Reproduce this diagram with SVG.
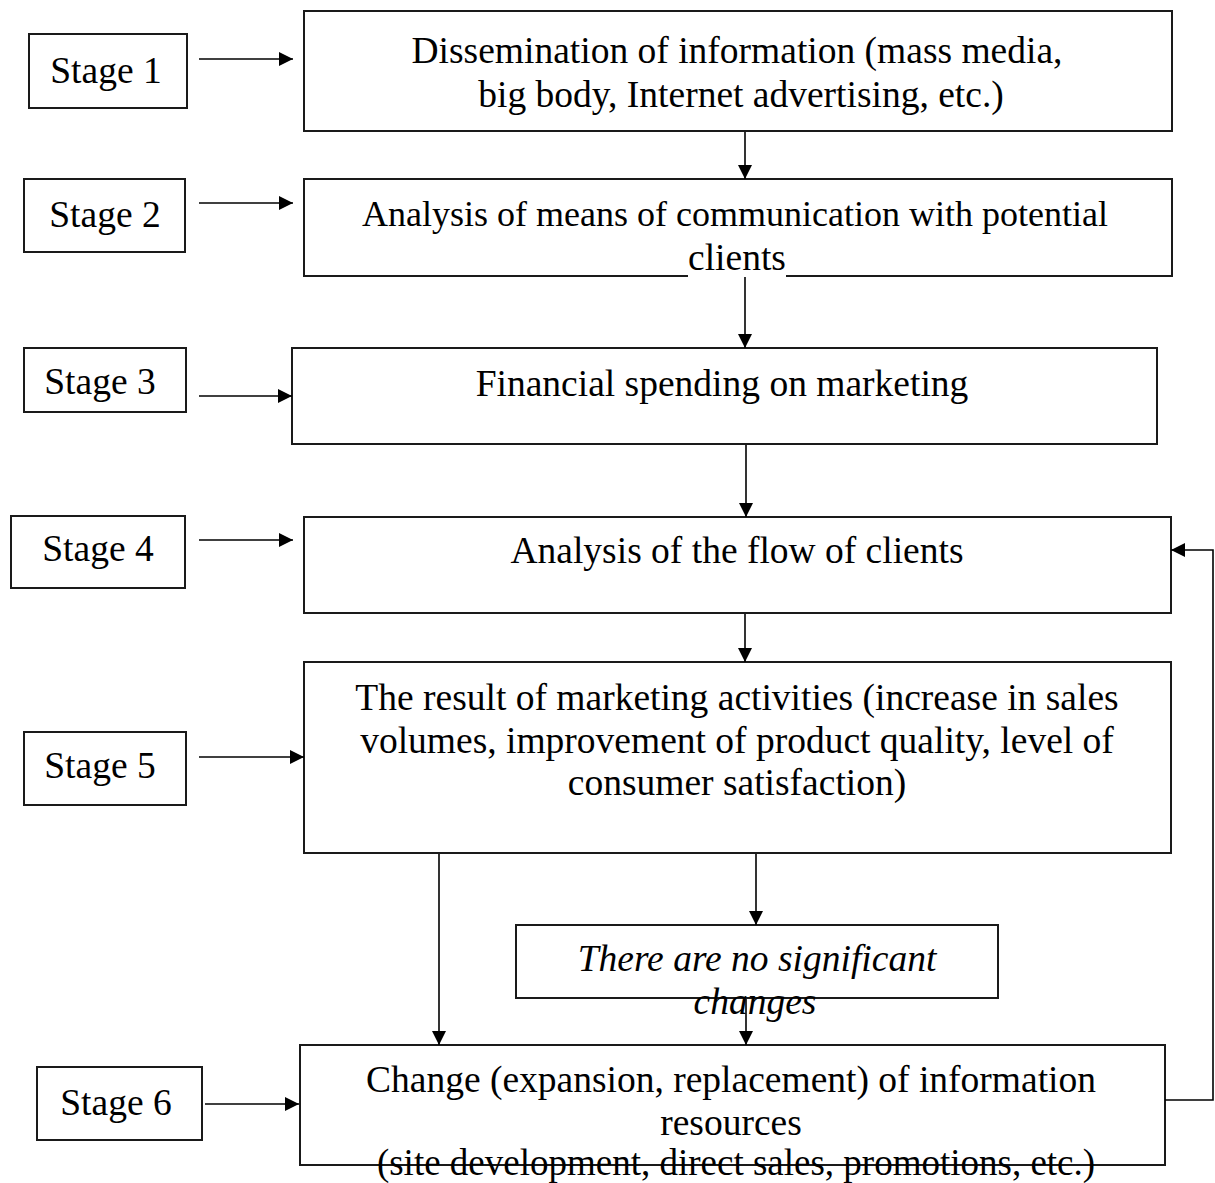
<svg xmlns="http://www.w3.org/2000/svg" width="1215" height="1183" viewBox="0 0 1215 1183">
  <style>
    .box { fill: #fff; stroke: #1a1a1a; stroke-width: 2; }
    .t { font-family: "Liberation Serif", "Times New Roman", serif; font-size: 37.5px; fill: #000; text-anchor: middle; }
    .it { font-style: italic; }
    .wire { fill: none; stroke: #000; stroke-width: 1.6; }
  </style>
  <defs>
    <marker id="arrow" viewBox="0 0 14 14" refX="14" refY="7" markerWidth="14" markerHeight="14" markerUnits="userSpaceOnUse" orient="auto">
      <path d="M0,0 L14,7 L0,14 Z" fill="#000"/>
    </marker>
  </defs>

  <!-- stage labels -->
  <g id="stage1"><rect class="box" x="29" y="34" width="158" height="74"/><text class="t" x="106" y="83">Stage 1</text></g>
  <g id="stage2"><rect class="box" x="24" y="179" width="161" height="73"/><text class="t" x="105" y="227">Stage 2</text></g>
  <g id="stage3"><rect class="box" x="24" y="348" width="162" height="64"/><text class="t" x="100" y="394">Stage 3</text></g>
  <g id="stage4"><rect class="box" x="11" y="516" width="174" height="72"/><text class="t" x="98" y="561">Stage 4</text></g>
  <g id="stage5"><rect class="box" x="24" y="732" width="162" height="73"/><text class="t" x="100" y="778">Stage 5</text></g>
  <g id="stage6"><rect class="box" x="37" y="1067" width="165" height="73"/><text class="t" x="116" y="1115">Stage 6</text></g>

  <!-- process steps -->
  <g id="step1">
    <rect class="box" x="304" y="11" width="868" height="120"/>
    <text class="t" x="737" y="63">Dissemination of information (mass media,</text>
    <text class="t" x="741" y="107">big body, Internet advertising, etc.)</text>
  </g>
  <g id="step2">
    <rect class="box" x="304" y="179" width="868" height="97"/>
    <rect x="688" y="270" width="98" height="9" fill="#fff"/>
    <text class="t" x="735" y="226" style="font-size:36px">Analysis of means of communication with potential</text>
    <text class="t" x="737" y="270">clients</text>
  </g>
  <g id="step3">
    <rect class="box" x="292" y="348" width="865" height="96"/>
    <text class="t" x="722" y="396">Financial spending on marketing</text>
  </g>
  <g id="step4">
    <rect class="box" x="304" y="517" width="867" height="96"/>
    <text class="t" x="737" y="563">Analysis of the flow of clients</text>
  </g>
  <g id="step5">
    <rect class="box" x="304" y="662" width="867" height="191"/>
    <text class="t" x="737" y="710">The result of marketing activities (increase in sales</text>
    <text class="t" x="737" y="753">volumes, improvement of product quality, level of</text>
    <text class="t" x="737" y="795">consumer satisfaction)</text>
  </g>
  <g id="no-change">
    <rect class="box" x="516" y="925" width="482" height="73"/>
    <text class="t it" x="757" y="971">There are no significant</text>
    <text class="t it" x="755" y="1014">changes</text>
  </g>
  <g id="step6">
    <rect class="box" x="300" y="1045" width="865" height="120" fill="none"/>
    <text class="t" x="731" y="1092">Change (expansion, replacement) of information</text>
    <text class="t" x="731" y="1135">resources</text>
    <text class="t" x="736" y="1175" style="font-size:37px">(site development, direct sales, promotions, etc.)</text>
  </g>

  <!-- connectors -->
  <g id="connectors">
    <line class="wire" x1="199" y1="59" x2="293" y2="59" marker-end="url(#arrow)"/>
    <line class="wire" x1="199" y1="203" x2="293" y2="203" marker-end="url(#arrow)"/>
    <line class="wire" x1="199" y1="396" x2="292" y2="396" marker-end="url(#arrow)"/>
    <line class="wire" x1="199" y1="540" x2="293" y2="540" marker-end="url(#arrow)"/>
    <line class="wire" x1="199" y1="757" x2="304" y2="757" marker-end="url(#arrow)"/>
    <line class="wire" x1="205" y1="1104" x2="299" y2="1104" marker-end="url(#arrow)"/>

    <line class="wire" x1="745" y1="132" x2="745" y2="179" marker-end="url(#arrow)"/>
    <line class="wire" x1="745" y1="277" x2="745" y2="348" marker-end="url(#arrow)"/>
    <line class="wire" x1="746" y1="445" x2="746" y2="517" marker-end="url(#arrow)"/>
    <line class="wire" x1="745" y1="614" x2="745" y2="662" marker-end="url(#arrow)"/>

    <line class="wire" x1="439" y1="854" x2="439" y2="1045" marker-end="url(#arrow)"/>
    <line class="wire" x1="756" y1="854" x2="756" y2="925" marker-end="url(#arrow)"/>
    <line class="wire" x1="746" y1="999" x2="746" y2="1045" marker-end="url(#arrow)"/>

    <polyline class="wire" points="1165,1100 1213,1100 1213,550 1171,550" marker-end="url(#arrow)"/>
  </g>
</svg>
